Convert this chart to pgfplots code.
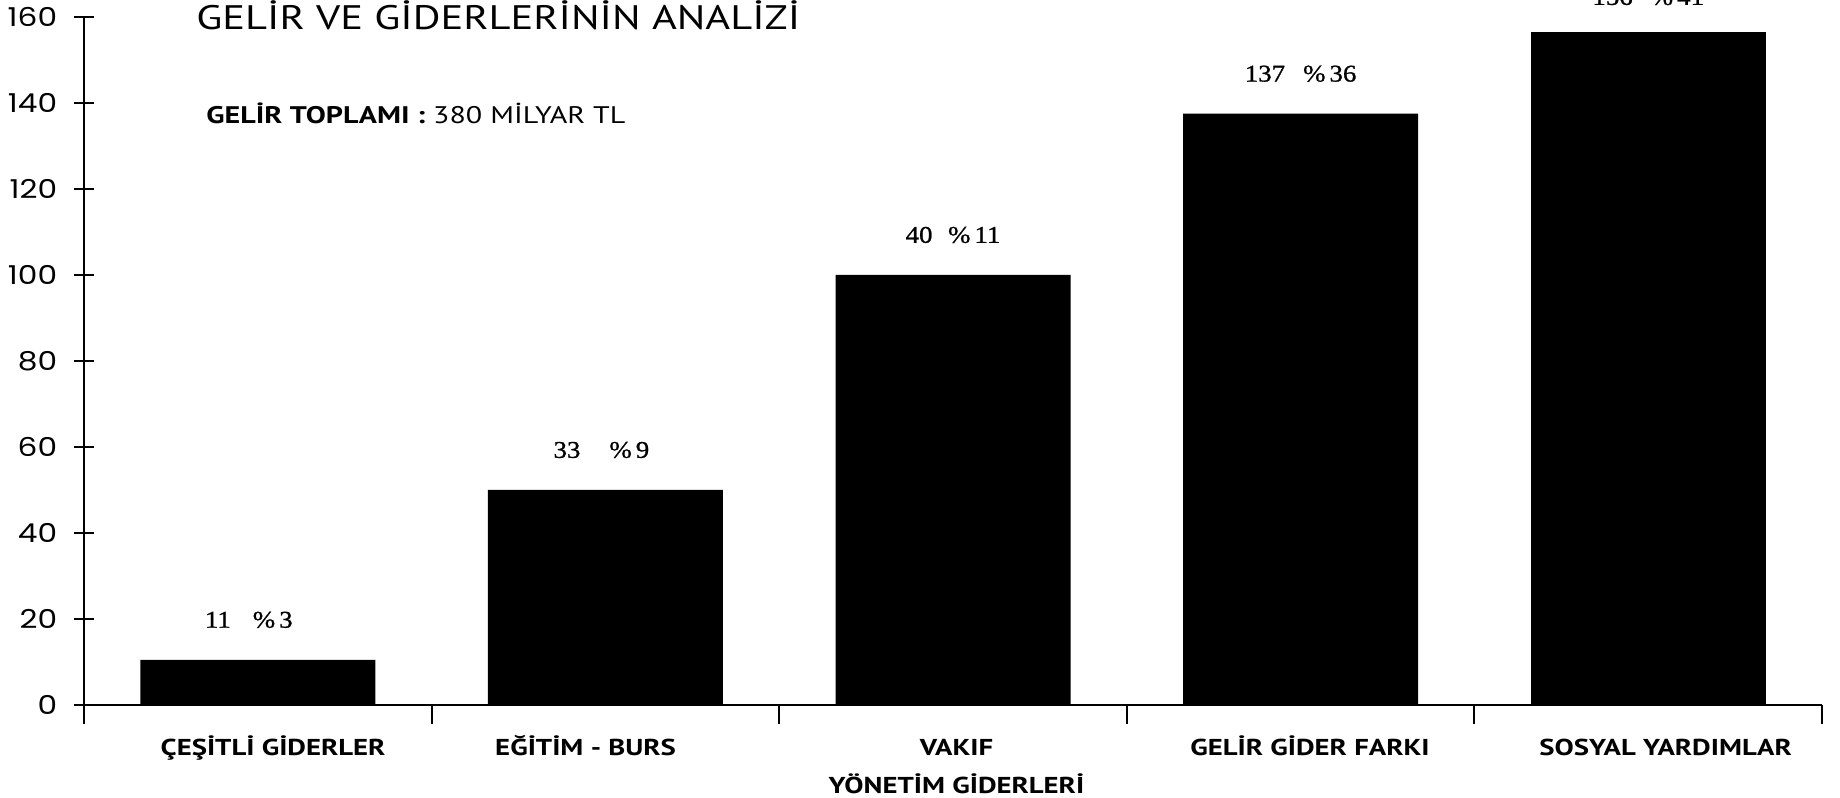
\documentclass[border=0pt]{standalone}
\usepackage{fontspec}
\setmainfont{PT Sans}[FakeStretch=1.25]
\newfontfamily\poppins{Poppins}[FakeStretch=1.2]
\newfontfamily\serifnum{Liberation Serif}[FakeStretch=1.12, FakeBold=1]
\usepackage{pgfplots}
\pgfplotsset{compat=1.18}
\begin{document}
\begin{tikzpicture}
\begin{axis}[
  at={(42pt,46pt)}, anchor=south west,
  scale only axis, width=869pt, height=344pt,
  xmin=0, xmax=5, ymin=0, ymax=160,
  axis lines=left,
  axis line style={-, line width=1.2pt},
  tick align=center,
  major tick length=9.5pt,
  tick style={line width=1pt, black},
  xtick={0,1,2,3,4,5},
  xticklabels={},
  extra x ticks={0.544,1.443,2.51,3.527,4.55},
  extra x tick labels={ÇEŞİTLİ GİDERLER, EĞİTİM - BURS, {\begin{tabular}[t]{@{}c@{}}VAKIF\\YÖNETİM GİDERLERİ\end{tabular}}, GELİR GİDER FARKI, SOSYAL YARDIMLAR},
  extra x tick style={major tick length=0pt, tick label style={font=\bfseries\fontsize{11.5}{18.8}\selectfont, anchor=north, text height=8pt, inner sep=0pt, yshift=-17pt}},
  ytick={0,20,...,160},
  /pgf/number format/assume math mode=true,
  yticklabel style={font=\poppins\fontsize{13}{15}\selectfont, anchor=east, inner sep=0pt, xshift=-8.5pt},
  clip=false,
  ybar, bar width=117.5pt,
  nodes near coords style={font=\serifnum\fontsize{12}{14}\selectfont, anchor=center, inner sep=0pt},
]
\addplot[fill=black, draw=none, bar shift=0pt, point meta=explicit symbolic,
  nodes near coords, nodes near coords style={yshift=20pt}]
  coordinates {
    (0.5,10.5) [{\hspace*{-9pt}11\hspace{11pt}\%\,3}]
    (1.5,50) [{\hspace*{-4pt}33\hspace{14.5pt}\%\,9}]
    (2.5,100) [{40\hspace{7.8pt}\%\,11}]
    (3.5,137.5) [{137\hspace{9pt}\%\,36}]
  };
\addplot[fill=black, draw=none, bar shift=0pt, point meta=explicit symbolic,
  nodes near coords, nodes near coords style={yshift=17.5pt}]
  coordinates {
    (4.5,156.5) [{156\hspace{9pt}\%\,41}]
  };
\end{axis}
\node[anchor=base west, inner sep=0pt, font=\fontsize{17}{20}\selectfont] at (98pt,383.5pt) {GELİR VE GİDERLERİNİN ANALİZİ};
\node[anchor=base west, inner sep=0pt, font=\fontsize{12}{14}\selectfont] at (103pt,336.5pt) {\textbf{GELİR TOPLAMI :} 380 MİLYAR TL};
\pgfresetboundingbox
\useasboundingbox (0,0) rectangle (920pt,398.5pt);
\end{tikzpicture}
\end{document}
